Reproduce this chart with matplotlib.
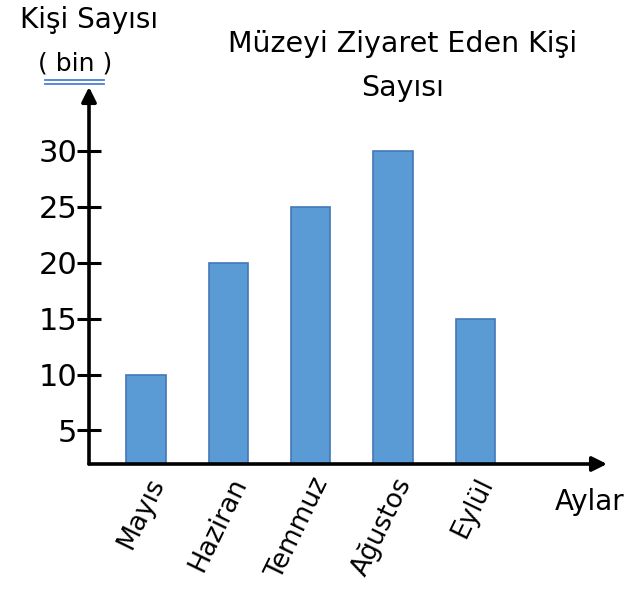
import matplotlib
matplotlib.use("Agg")
import matplotlib.pyplot as plt
import numpy as np

plt.rcParams['font.family'] = ['DejaVu Sans']

months = ["Mayıs", "Haziran", "Temmuz", "Ağustos", "Eylül"]
values = [10, 20, 25, 30, 15]
yticks = [5, 10, 15, 20, 25, 30]
ytick_labels = ["5", "10", "15", "20", "25", "30"]

W, H = 641, 590
fig = plt.figure(figsize=(W / 100, H / 100), dpi=100)
left, right, bottom, top = 89, 607, 464, 87
ax = fig.add_axes([left / W, (H - bottom) / H, (right - left) / W, (bottom - top) / H])

x = np.arange(len(months))
ax.bar(x, values, width=0.475, color="#5B9BD5", edgecolor="#4377B8", linewidth=1.2, zorder=2)

ax.set_xlim(-0.693, 5.6)
ax.set_ylim(2.0, 35.7)

for s in ax.spines.values():
    s.set_visible(False)

ax.annotate('', xy=(0, 1), xytext=(0, 0), xycoords='axes fraction',
            arrowprops=dict(arrowstyle='-|>', lw=2.6, color='black', mutation_scale=22,
                            shrinkA=0, shrinkB=0), annotation_clip=False)
ax.annotate('', xy=(1, 0), xytext=(0, 0), xycoords='axes fraction',
            arrowprops=dict(arrowstyle='-|>', lw=2.6, color='black', mutation_scale=22,
                            shrinkA=0, shrinkB=0), annotation_clip=False)

ax.set_yticks(yticks)
ax.set_yticklabels(ytick_labels, fontsize=22)
ax.tick_params(axis='y', direction='inout', length=17, width=2.2, pad=0)

ax.set_xticks(x)
ax.set_xticklabels(months, fontsize=19, rotation=64, ha='right', va='top', rotation_mode='anchor')
ax.tick_params(axis='x', length=0, pad=7)

fig.text(403 / W, 1 - 44 / H, "Müzeyi Ziyaret Eden Kişi", fontsize=20.5, ha='center', va='center')
fig.text(403 / W, 1 - 88 / H, "Sayısı", fontsize=20.5, ha='center', va='center')
fig.text(89 / W, 1 - 20 / H, "Kişi Sayısı", fontsize=20, ha='center', va='center')
fig.text(75 / W, 1 - 63 / H, "( bin )", fontsize=18, ha='center', va='center')
fig.add_artist(plt.Line2D([45 / W, 104 / W], [1 - 80 / H, 1 - 80 / H], color="#4A7FD8", lw=1.3))
fig.add_artist(plt.Line2D([45 / W, 104 / W], [1 - 84 / H, 1 - 84 / H], color="#4A7FD8", lw=1.3))
fig.text(590 / W, 1 - 502 / H, "Aylar", fontsize=20, ha='center', va='center')

fig.savefig("out.png", dpi=100)
